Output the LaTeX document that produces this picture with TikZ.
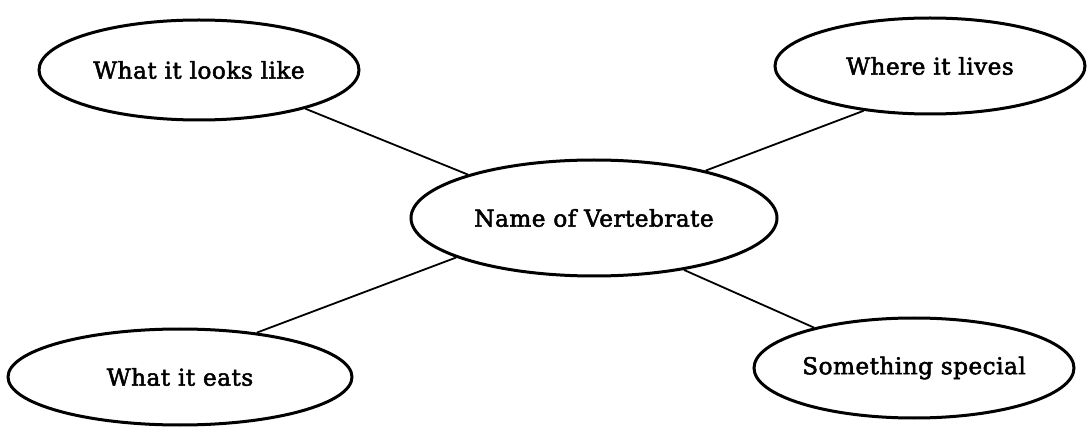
\documentclass[tikz,border=0pt]{standalone}
\usepackage{fontspec}
\setmainfont{DejaVu Serif}
\newfontfamily\topicfont{DejaVu Serif}[FakeBold=2.2, LetterSpace=2]
\usetikzlibrary{shapes.geometric}
\begin{document}
\begin{tikzpicture}[x=0.5pt,y=0.5pt,
  topic/.style={draw, ellipse, line width=1.5pt, inner sep=0pt,
    font=\topicfont\fontsize{11.6}{14}\selectfont},
  link/.style={line width=0.9pt}]
\useasboundingbox (0,0) rectangle (1088,429);
% central idea
\node[topic, minimum width=183pt, minimum height=58pt] (name) at (594,211) {Name of Vertebrate};
% four surrounding ideas
\node[topic, minimum width=160pt, minimum height=50pt] (looks) at (199,359) {What it looks like};
\node[topic, minimum width=155pt, minimum height=48pt] (lives) at (930,363) {Where it lives};
\node[topic, minimum width=172pt, minimum height=48pt] (eats) at (180,52) {What it eats};
\node[topic, minimum width=160pt, minimum height=50pt] (special) at (914,61) {Something special};
% spokes
\draw[link] (looks.-20) -- (name.161);
\draw[link] (lives.214) -- (name.23);
\draw[link] (eats.30) -- (name.196);
\draw[link] (special.158) -- (name.-30);
\end{tikzpicture}
\end{document}
